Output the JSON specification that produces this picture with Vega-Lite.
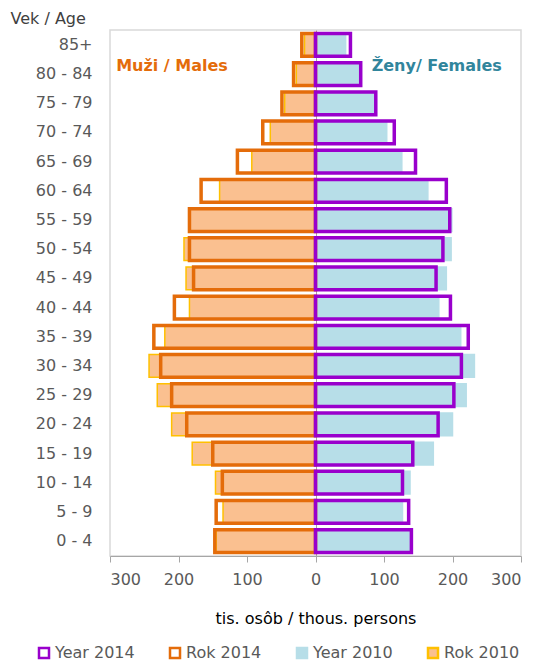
{
  "$schema": "https://vega.github.io/schema/vega-lite/v6.json",
  "width": 411,
  "height": 526,
  "autosize": {"type": "none"},
  "padding": {"left": 110, "top": 30, "right": 18, "bottom": 108},
  "config": {
    "font": "DejaVu Sans",
    "view": {"stroke": "#D9D9D9", "strokeWidth": 1.5},
    "legend": {
      "symbolType": "square",
      "symbolSize": 100,
      "symbolStrokeWidth": 2.5,
      "labelFontSize": 16,
      "labelColor": "#595959",
      "labelFont": "DejaVu Sans",
      "labelOffset": 3,
      "columnPadding": 30
    }
  },
  "datasets": {
    "pop": [
      {"age": "85+", "series": "Rok 2014", "year": 2014, "value": -20},
      {"age": "80 - 84", "series": "Rok 2014", "year": 2014, "value": -32},
      {"age": "75 - 79", "series": "Rok 2014", "year": 2014, "value": -49},
      {"age": "70 - 74", "series": "Rok 2014", "year": 2014, "value": -77},
      {"age": "65 - 69", "series": "Rok 2014", "year": 2014, "value": -114},
      {"age": "60 - 64", "series": "Rok 2014", "year": 2014, "value": -167},
      {"age": "55 - 59", "series": "Rok 2014", "year": 2014, "value": -184},
      {"age": "50 - 54", "series": "Rok 2014", "year": 2014, "value": -184},
      {"age": "45 - 49", "series": "Rok 2014", "year": 2014, "value": -178},
      {"age": "40 - 44", "series": "Rok 2014", "year": 2014, "value": -206},
      {"age": "35 - 39", "series": "Rok 2014", "year": 2014, "value": -236},
      {"age": "30 - 34", "series": "Rok 2014", "year": 2014, "value": -226},
      {"age": "25 - 29", "series": "Rok 2014", "year": 2014, "value": -210},
      {"age": "20 - 24", "series": "Rok 2014", "year": 2014, "value": -188},
      {"age": "15 - 19", "series": "Rok 2014", "year": 2014, "value": -150},
      {"age": "10 - 14", "series": "Rok 2014", "year": 2014, "value": -136},
      {"age": "5 - 9", "series": "Rok 2014", "year": 2014, "value": -145},
      {"age": "0 - 4", "series": "Rok 2014", "year": 2014, "value": -147},

      {"age": "85+", "series": "Rok 2010", "year": 2010, "value": -16},
      {"age": "80 - 84", "series": "Rok 2010", "year": 2010, "value": -28},
      {"age": "75 - 79", "series": "Rok 2010", "year": 2010, "value": -45},
      {"age": "70 - 74", "series": "Rok 2010", "year": 2010, "value": -66},
      {"age": "65 - 69", "series": "Rok 2010", "year": 2010, "value": -93},
      {"age": "60 - 64", "series": "Rok 2010", "year": 2010, "value": -140},
      {"age": "55 - 59", "series": "Rok 2010", "year": 2010, "value": -183},
      {"age": "50 - 54", "series": "Rok 2010", "year": 2010, "value": -192},
      {"age": "45 - 49", "series": "Rok 2010", "year": 2010, "value": -189},
      {"age": "40 - 44", "series": "Rok 2010", "year": 2010, "value": -184},
      {"age": "35 - 39", "series": "Rok 2010", "year": 2010, "value": -220},
      {"age": "30 - 34", "series": "Rok 2010", "year": 2010, "value": -243},
      {"age": "25 - 29", "series": "Rok 2010", "year": 2010, "value": -231},
      {"age": "20 - 24", "series": "Rok 2010", "year": 2010, "value": -210},
      {"age": "15 - 19", "series": "Rok 2010", "year": 2010, "value": -180},
      {"age": "10 - 14", "series": "Rok 2010", "year": 2010, "value": -146},
      {"age": "5 - 9", "series": "Rok 2010", "year": 2010, "value": -135},
      {"age": "0 - 4", "series": "Rok 2010", "year": 2010, "value": -145},

      {"age": "85+", "series": "Year 2014", "year": 2014, "value": 51},
      {"age": "80 - 84", "series": "Year 2014", "year": 2014, "value": 66},
      {"age": "75 - 79", "series": "Year 2014", "year": 2014, "value": 88},
      {"age": "70 - 74", "series": "Year 2014", "year": 2014, "value": 115},
      {"age": "65 - 69", "series": "Year 2014", "year": 2014, "value": 146},
      {"age": "60 - 64", "series": "Year 2014", "year": 2014, "value": 191},
      {"age": "55 - 59", "series": "Year 2014", "year": 2014, "value": 196},
      {"age": "50 - 54", "series": "Year 2014", "year": 2014, "value": 186},
      {"age": "45 - 49", "series": "Year 2014", "year": 2014, "value": 176},
      {"age": "40 - 44", "series": "Year 2014", "year": 2014, "value": 197},
      {"age": "35 - 39", "series": "Year 2014", "year": 2014, "value": 223},
      {"age": "30 - 34", "series": "Year 2014", "year": 2014, "value": 213},
      {"age": "25 - 29", "series": "Year 2014", "year": 2014, "value": 202},
      {"age": "20 - 24", "series": "Year 2014", "year": 2014, "value": 179},
      {"age": "15 - 19", "series": "Year 2014", "year": 2014, "value": 142},
      {"age": "10 - 14", "series": "Year 2014", "year": 2014, "value": 127},
      {"age": "5 - 9", "series": "Year 2014", "year": 2014, "value": 136},
      {"age": "0 - 4", "series": "Year 2014", "year": 2014, "value": 140},

      {"age": "85+", "series": "Year 2010", "year": 2010, "value": 44},
      {"age": "80 - 84", "series": "Year 2010", "year": 2010, "value": 63},
      {"age": "75 - 79", "series": "Year 2010", "year": 2010, "value": 86},
      {"age": "70 - 74", "series": "Year 2010", "year": 2010, "value": 104},
      {"age": "65 - 69", "series": "Year 2010", "year": 2010, "value": 126},
      {"age": "60 - 64", "series": "Year 2010", "year": 2010, "value": 164},
      {"age": "55 - 59", "series": "Year 2010", "year": 2010, "value": 199},
      {"age": "50 - 54", "series": "Year 2010", "year": 2010, "value": 198},
      {"age": "45 - 49", "series": "Year 2010", "year": 2010, "value": 191},
      {"age": "40 - 44", "series": "Year 2010", "year": 2010, "value": 180},
      {"age": "35 - 39", "series": "Year 2010", "year": 2010, "value": 212},
      {"age": "30 - 34", "series": "Year 2010", "year": 2010, "value": 232},
      {"age": "25 - 29", "series": "Year 2010", "year": 2010, "value": 220},
      {"age": "20 - 24", "series": "Year 2010", "year": 2010, "value": 200},
      {"age": "15 - 19", "series": "Year 2010", "year": 2010, "value": 172},
      {"age": "10 - 14", "series": "Year 2010", "year": 2010, "value": 138},
      {"age": "5 - 9", "series": "Year 2010", "year": 2010, "value": 127},
      {"age": "0 - 4", "series": "Year 2010", "year": 2010, "value": 140}
    ]
  },
  "encoding": {
    "x": {
      "field": "value", "type": "quantitative",
      "scale": {"domain": [-300, 300], "nice": false},
      "axis": {
        "values": [-300, -200, -100, 0, 100, 200, 300],
        "labelExpr": "abs(datum.value)",
        "grid": true,
        "gridColor": "#A6A6A6",
        "gridWidth": 1,
        "gridOpacity": {"condition": {"test": "datum.value === 0", "value": 1}, "value": 0},
        "domainColor": "#A6A6A6",
        "tickColor": "#A6A6A6",
        "tickSize": 6,
        "labelFontSize": 16,
        "labelColor": "#595959",
        "labelPadding": 9,
        "title": "tis. osôb / thous. persons",
        "titleFontSize": 16,
        "titleFontWeight": "normal",
        "titleColor": "#000000",
        "titlePadding": 23
      }
    },
    "y": {
      "field": "age", "type": "nominal",
      "scale": {
        "domain": ["85+", "80 - 84", "75 - 79", "70 - 74", "65 - 69", "60 - 64", "55 - 59", "50 - 54", "45 - 49", "40 - 44", "35 - 39", "30 - 34", "25 - 29", "20 - 24", "15 - 19", "10 - 14", "5 - 9", "0 - 4"],
        "paddingInner": 0.22,
        "paddingOuter": 0.12
      },
      "axis": {
        "title": "Vek / Age",
        "titleAngle": 0,
        "titleAlign": "left",
        "titleBaseline": "middle",
        "titleX": -100,
        "titleY": -12,
        "titleFontSize": 16,
        "titleFontWeight": "normal",
        "titleColor": "#404040",
        "domain": false,
        "ticks": false,
        "labelPadding": 18,
        "labelFontSize": 16,
        "labelColor": "#595959"
      }
    }
  },
  "layer": [
    {
      "data": {"name": "pop"},
      "transform": [{"filter": "datum.year == 2010"}],
      "mark": {"type": "bar", "strokeWidth": 1.5},
      "encoding": {
        "fill": {
          "field": "series", "type": "nominal",
          "scale": {"domain": ["Year 2014", "Rok 2014", "Year 2010", "Rok 2010"], "range": ["transparent", "transparent", "#B7DEE8", "#FAC090"]},
          "legend": {"title": null, "orient": "none", "direction": "horizontal", "legendX": -74, "legendY": 615}
        },
        "stroke": {
          "field": "series", "type": "nominal",
          "scale": {"domain": ["Year 2014", "Rok 2014", "Year 2010", "Rok 2010"], "range": ["#9900CC", "#E46C0A", "#B7DEE8", "#FFC000"]},
          "legend": {"title": null, "orient": "none", "direction": "horizontal", "legendX": -74, "legendY": 615}
        }
      }
    },
    {
      "data": {"name": "pop"},
      "transform": [{"filter": "datum.year == 2014"}],
      "mark": {"type": "bar", "strokeWidth": 3.5},
      "encoding": {
        "fill": {
          "field": "series", "type": "nominal",
          "scale": {"domain": ["Year 2014", "Rok 2014", "Year 2010", "Rok 2010"], "range": ["transparent", "transparent", "#B7DEE8", "#FAC090"]},
          "legend": {"title": null, "orient": "none", "direction": "horizontal", "legendX": -74, "legendY": 615}
        },
        "stroke": {
          "field": "series", "type": "nominal",
          "scale": {"domain": ["Year 2014", "Rok 2014", "Year 2010", "Rok 2010"], "range": ["#9900CC", "#E46C0A", "#B7DEE8", "#FFC000"]},
          "legend": {"title": null, "orient": "none", "direction": "horizontal", "legendX": -74, "legendY": 615}
        }
      }
    },
    {
      "data": {"values": [{"label": "Muži / Males", "age": "80 - 84", "value": -291}]},
      "mark": {"type": "text", "align": "left", "baseline": "middle", "dy": -8, "fontSize": 16, "fontWeight": "bold", "color": "#E46C0A"},
      "encoding": {
        "text": {"field": "label"}
      }
    },
    {
      "data": {"values": [{"label": "Ženy/ Females", "age": "80 - 84", "value": 82}]},
      "mark": {"type": "text", "align": "left", "baseline": "middle", "dy": -8, "fontSize": 16, "fontWeight": "bold", "color": "#31859C"},
      "encoding": {
        "text": {"field": "label"}
      }
    }
  ]
}
